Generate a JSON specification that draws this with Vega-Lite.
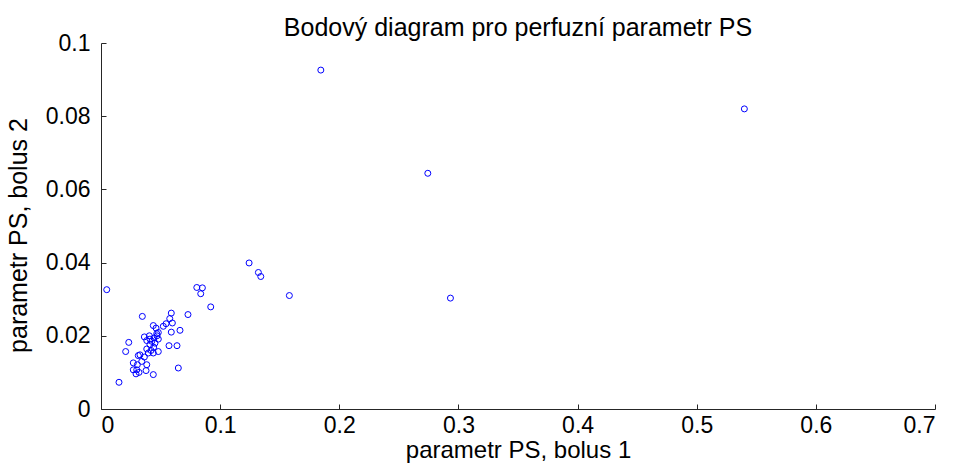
{
  "$schema": "https://vega.github.io/schema/vega-lite/v6.json",
  "width": 834,
  "height": 366,
  "autosize": {"type": "none"},
  "padding": {"left": 101, "top": 43, "right": 20, "bottom": 57},
  "background": "white",
  "title": {
    "text": "Bodový diagram pro perfuzní parametr PS",
    "font": "Liberation Sans",
    "fontSize": 25,
    "fontWeight": "normal",
    "color": "black",
    "frame": "group",
    "offset": -9,
    "dx": 0
  },
  "config": {
    "view": {"stroke": null},
    "axis": {
      "labelFont": "Liberation Sans",
      "titleFont": "Liberation Sans",
      "labelColor": "black",
      "titleColor": "black",
      "labelFontSize": 23,
      "titleFontSize": 25,
      "titleFontWeight": "normal",
      "grid": false,
      "domainColor": "#262626",
      "tickColor": "#262626",
      "tickSize": -5
    }
  },
  "data": {
    "values": [
      {"x": 0.0048, "y": 0.0326},
      {"x": 0.0804, "y": 0.0332},
      {"x": 0.0851, "y": 0.0331},
      {"x": 0.0837, "y": 0.0315},
      {"x": 0.0921, "y": 0.0279},
      {"x": 0.0347, "y": 0.0253},
      {"x": 0.0590, "y": 0.0262},
      {"x": 0.0730, "y": 0.0258},
      {"x": 0.0577, "y": 0.0247},
      {"x": 0.0599, "y": 0.0235},
      {"x": 0.0546, "y": 0.0233},
      {"x": 0.0523, "y": 0.0226},
      {"x": 0.0439, "y": 0.0228},
      {"x": 0.0462, "y": 0.0221},
      {"x": 0.0590, "y": 0.0210},
      {"x": 0.0663, "y": 0.0215},
      {"x": 0.0481, "y": 0.0209},
      {"x": 0.0470, "y": 0.0200},
      {"x": 0.0364, "y": 0.0197},
      {"x": 0.0406, "y": 0.0200},
      {"x": 0.0445, "y": 0.0194},
      {"x": 0.0481, "y": 0.0191},
      {"x": 0.0384, "y": 0.0187},
      {"x": 0.0426, "y": 0.0185},
      {"x": 0.0453, "y": 0.0180},
      {"x": 0.0233, "y": 0.0182},
      {"x": 0.0411, "y": 0.0176},
      {"x": 0.0571, "y": 0.0173},
      {"x": 0.0638, "y": 0.0173},
      {"x": 0.0442, "y": 0.0169},
      {"x": 0.0384, "y": 0.0164},
      {"x": 0.0207, "y": 0.0157},
      {"x": 0.0481, "y": 0.0157},
      {"x": 0.0420, "y": 0.0160},
      {"x": 0.0397, "y": 0.0153},
      {"x": 0.0439, "y": 0.0153},
      {"x": 0.0327, "y": 0.0148},
      {"x": 0.0313, "y": 0.0146},
      {"x": 0.0364, "y": 0.0142},
      {"x": 0.0271, "y": 0.0126},
      {"x": 0.0342, "y": 0.0130},
      {"x": 0.0384, "y": 0.0121},
      {"x": 0.0271, "y": 0.0107},
      {"x": 0.0300, "y": 0.0107},
      {"x": 0.0319, "y": 0.0100},
      {"x": 0.0294, "y": 0.0096},
      {"x": 0.0378, "y": 0.0105},
      {"x": 0.0439, "y": 0.0094},
      {"x": 0.0649, "y": 0.0112},
      {"x": 0.0151, "y": 0.0073},
      {"x": 0.0411, "y": 0.0191},
      {"x": 0.0468, "y": 0.0206},
      {"x": 0.0305, "y": 0.0121},
      {"x": 0.1845, "y": 0.0926},
      {"x": 0.5400, "y": 0.0820},
      {"x": 0.2743, "y": 0.0644},
      {"x": 0.2933, "y": 0.0303},
      {"x": 0.1243, "y": 0.0399},
      {"x": 0.1321, "y": 0.0373},
      {"x": 0.1341, "y": 0.0362},
      {"x": 0.1581, "y": 0.0310}
    ]
  },
  "mark": {"type": "point", "shape": "circle", "filled": false, "color": "#0000ff", "size": 36, "strokeWidth": 1, "opacity": 1},
  "encoding": {
    "x": {
      "field": "x",
      "type": "quantitative",
      "scale": {"domain": [0, 0.7], "nice": false, "zero": false},
      "axis": {"values": [0, 0.1, 0.2, 0.3, 0.4, 0.5, 0.6, 0.7], "format": ".1~f", "title": "parametr PS, bolus 1", "titlePadding": 1, "labelPadding": 10, "titleFontSize": 24}
    },
    "y": {
      "field": "y",
      "type": "quantitative",
      "scale": {"domain": [0, 0.1], "nice": false, "zero": false},
      "axis": {"values": [0, 0.02, 0.04, 0.06, 0.08, 0.1], "format": ".2~f", "title": "parametr PS, bolus 2", "titlePadding": 14, "labelPadding": 16, "titleY": 192}
    }
  }
}
